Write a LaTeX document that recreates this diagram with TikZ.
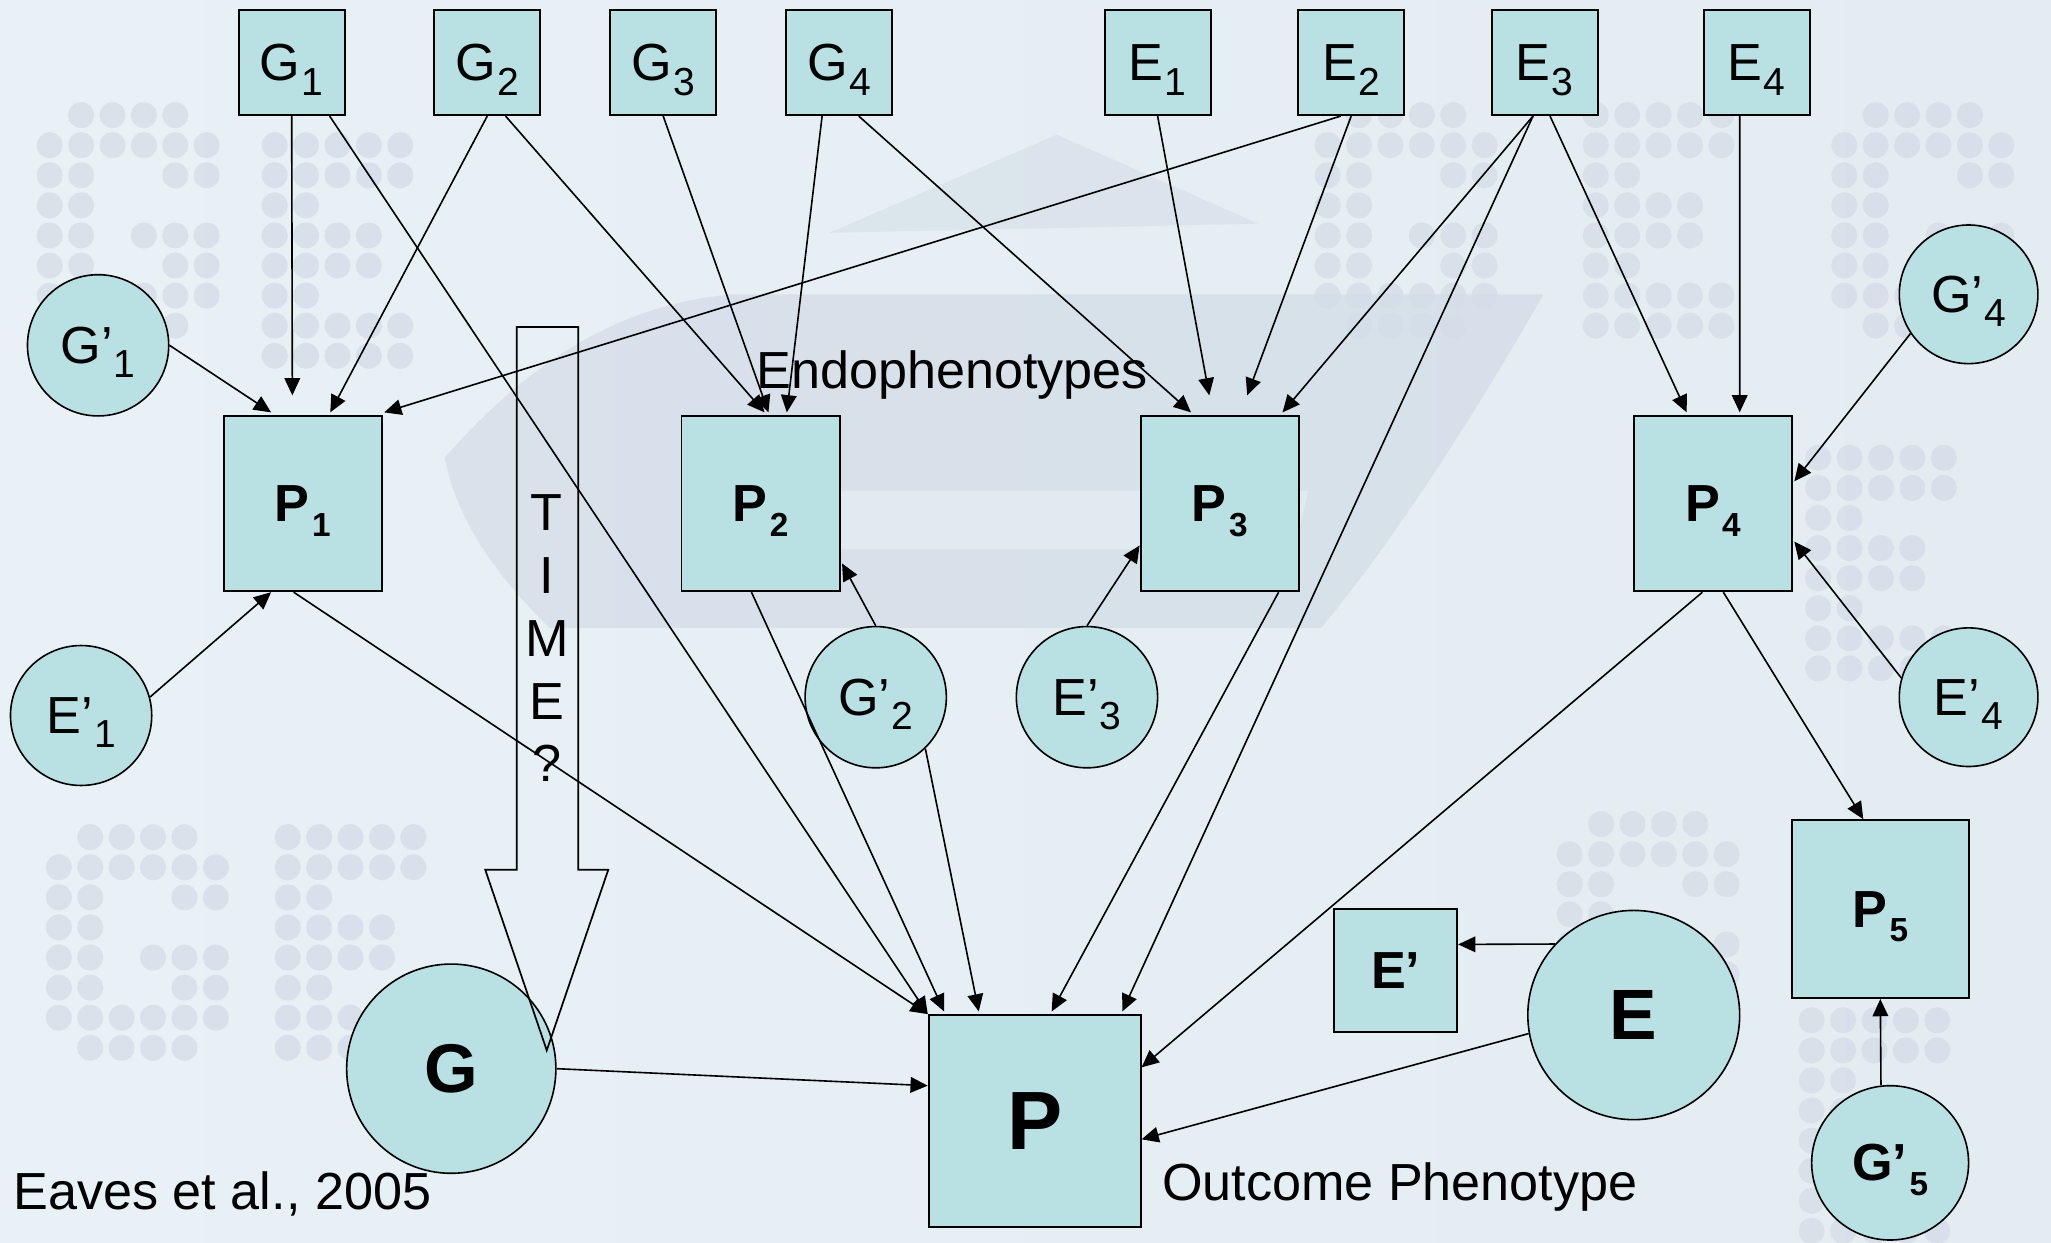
\documentclass[tikz,border=0pt]{standalone}
\usepackage{fontspec}
\setmainfont{Liberation Sans}
\usetikzlibrary{arrows.meta,calc,shapes.geometric}
\definecolor{nodefill}{RGB}{185,224,226}
\definecolor{bgleft}{RGB}{232,241,245}
\definecolor{bgmid}{RGB}{219,229,236}
\definecolor{bgright}{RGB}{227,236,241}
\definecolor{swoosh}{RGB}{196,206,222}
\definecolor{dotc}{RGB}{212,221,232}
\newcommand\nsz{\fontsize{22.7}{27.3}\selectfont}
\newcommand\ssz{\fontsize{17}{17}\selectfont}
\newcommand\bsz{\fontsize{14.5}{14.5}\selectfont}
\newcommand\lab[2]{#1\kern0.5pt\smash{\raisebox{-6.3pt}{\ssz #2}}}
\newcommand\plab[2]{\textbf{#1\kern1pt\smash{\raisebox{-6.3pt}{\bsz #2}}}}
\newcommand\dotG[2]{\foreach \c/\r in {1/0,2/0,3/0,4/0,0/1,1/1,2/1,3/1,4/1,5/1,0/2,1/2,4/2,5/2,0/3,1/3,0/4,1/4,3/4,4/4,5/4,0/5,1/5,4/5,5/5,0/6,1/6,2/6,3/6,4/6,5/6,1/7,2/7,3/7,4/7}{\fill[dotc, opacity=0.75] (#1+\c*24,#2+\r*23) circle (10);}}
\newcommand\dotE[2]{\foreach \c/\r in {0/0,1/0,2/0,3/0,4/0,0/1,1/1,2/1,3/1,4/1,0/2,1/2,0/3,1/3,2/3,3/3,0/4,1/4,2/4,3/4,0/5,1/5,0/6,1/6,2/6,3/6,4/6,0/7,1/7,2/7,3/7,4/7}{\fill[dotc, opacity=0.75] (#1+\c*24,#2+\r*23) circle (10);}}
\begin{document}
\begin{tikzpicture}[x=0.02cm,y=-0.02cm,
  box/.style={draw=black, line width=0.85pt, fill=nodefill, rectangle, inner sep=0pt, font=\nsz},
  circ/.style={draw=black, line width=0.7pt, fill=nodefill, ellipse, inner sep=0pt, font=\nsz},
  arr/.style={-{Triangle[length=7.5pt,width=6.8pt]}, line width=0.7pt},
  txt/.style={inner sep=0pt, font=\nsz}]
% background
\useasboundingbox (0,0) rectangle (1568,950);
\shade[left color=bgleft, middle color=bgmid, right color=bgright] (0,0) rectangle (1568,950);
\fill[swoosh, opacity=0.4] (340,350) .. controls (410,270) and (480,232) .. (560,225) -- (1180,225)
   .. controls (1120,330) and (1060,420) .. (1010,480) -- (420,480) .. controls (380,440) and (350,400) .. cycle;
\fill[bgleft, opacity=0.6] (560,375) -- (1000,375) -- (990,420) -- (570,420) -- cycle;
\fill[swoosh, opacity=0.3] (634,178) -- (808,103) -- (962,171) -- cycle;
\dotG{38}{88}
\dotE{210}{111}
\dotG{45}{640}
\dotE{220}{640}
\dotG{1015}{88}
\dotE{1220}{88}
\dotG{1410}{88}
\dotE{1390}{350}
\dotG{1200}{630}
\dotE{1385}{780}
% nodes
\node[box, minimum width=1.62cm, minimum height=1.6cm] (G1) at (223,48) {\lab{G}{1}};
\node[box, minimum width=1.62cm, minimum height=1.6cm] (G2) at (372.5,48) {\lab{G}{2}};
\node[box, minimum width=1.62cm, minimum height=1.6cm] (G3) at (507,48) {\lab{G}{3}};
\node[box, minimum width=1.62cm, minimum height=1.6cm] (G4) at (641.5,48) {\lab{G}{4}};
\node[box, minimum width=1.62cm, minimum height=1.6cm] (E1) at (885,48) {\lab{E}{1}};
\node[box, minimum width=1.62cm, minimum height=1.6cm] (E2) at (1033,48) {\lab{E}{2}};
\node[box, minimum width=1.62cm, minimum height=1.6cm] (E3) at (1181,48) {\lab{E}{3}};
\node[box, minimum width=1.62cm, minimum height=1.6cm] (E4) at (1343,48) {\lab{E}{4}};
\node[box, minimum width=2.42cm, minimum height=2.68cm] (P1) at (231.5,385) {\plab{P}{1}};
\node[box, minimum width=2.42cm, minimum height=2.68cm] (P2) at (581.5,385) {\plab{P}{2}};
\node[box, minimum width=2.42cm, minimum height=2.68cm] (P3) at (932.5,385) {\plab{P}{3}};
\node[box, minimum width=2.42cm, minimum height=2.68cm] (P4) at (1309.5,385) {\plab{P}{4}};
\node[box, minimum width=2.71cm, minimum height=2.72cm] (P5) at (1437.5,695) {\plab{P}{5}};
\node[box, minimum width=3.24cm, minimum height=3.24cm, font=\fontsize{36}{40}\selectfont\bfseries] (P) at (791,857) {P};
\node[box, minimum width=1.88cm, minimum height=1.88cm, font=\nsz\bfseries] (Ep) at (1067,742) {E’};
\node[circ, minimum width=2.16cm, minimum height=2.16cm] (Gp1) at (75,264) {\lab{G’}{1}};
\node[circ, minimum width=2.16cm, minimum height=2.14cm] (Ep1) at (62,547) {\lab{E’}{1}};
\node[circ, minimum width=2.16cm, minimum height=2.16cm] (Gp2) at (669.5,533) {\lab{G’}{2}};
\node[circ, minimum width=2.16cm, minimum height=2.16cm] (Ep3) at (831,533) {\lab{E’}{3}};
\node[circ, minimum width=2.12cm, minimum height=2.12cm] (Gp4) at (1505,225) {\lab{G’}{4}};
\node[circ, minimum width=2.12cm, minimum height=2.12cm] (Ep4) at (1505,533) {\lab{E’}{4}};
\node[circ, minimum width=3.2cm, minimum height=3.2cm, font=\fontsize{30}{34}\selectfont\bfseries] (G) at (345,817) {G};
\node[circ, minimum width=3.24cm, minimum height=3.2cm, font=\fontsize{31}{34}\selectfont\bfseries] (E) at (1249,776) {E};
\node[circ, minimum width=2.4cm, minimum height=2.36cm] (Gp5) at (1445,889) {\plab{G’}{5}};
% time arrow
\draw[line width=0.75pt] (395,250) -- (442,250) -- (442,665) -- (465,665) -- (418,803) -- (371,665) -- (395,665) -- cycle;
\node[txt, anchor=north, align=center] (time) at (418,378) {T\\I\\M\\E\\?};
% texts
\node[txt, anchor=base west] (endo) at (578,297) {Endophenotypes};
\node[txt, anchor=base west] (outc) at (888,918) {Outcome Phenotype};
\node[txt, anchor=base west] (eaves) at (10,925) {Eaves et al., 2005};
% connectors
\draw[arr] (G1.south) -- ($(P1.north)+(-8,-15)$);
\draw[arr] ($(G1.south)+(29,0)$) -- (P.north west);
\draw[arr] (G2.south) -- ($(P1.north)+(21,-2)$);
\draw[arr] ($(G2.south)+(14,0)$) -- ($(P2.north)+(3,-2)$);
\draw[arr] (G3.south) -- ($(P2.north)+(6,-2)$);
\draw[arr] ($(G4.south)+(-13,0)$) -- ($(P2.north)+(20,-2)$);
\draw[arr] ($(G4.south)+(15,0)$) -- ($(P3.north)+(-22,-2)$);
\draw[arr] (E1.south) -- ($(P3.north)+(-8,-15)$);
\draw[arr] ($(E2.south)+(-8,0)$) -- ($(P1.north east)+(1,-2)$);
\draw[arr] (E2.south) -- ($(P3.north)+(21,-15)$);
\draw[arr] ($(E3.south)+(-9,0)$) -- ($(P3.north)+(48,-2)$);
\draw[arr] ($(E3.south)+(-9,0)$) -- ($(P.north)+(67,-2)$);
\draw[arr] ($(E3.south)+(4,0)$) -- ($(P4.north)+(-20,-2)$);
\draw[arr] ($(E4.south)+(-13,0)$) -- ($(P4.north)+(20.5,-2)$);
\draw[arr] (Gp1.east) -- ($(P1.north west)+(37,-2)$);
\draw[arr] (Ep1.15) -- ($(P1.south west)+(37,0)$);
\draw[arr] (Gp4.214) -- ($(P4.east)+(1,-17)$);
\draw[arr] (Ep4.164) -- ($(P4.east)+(1,29)$);
\draw[arr] (Gp2.north) -- ($(P2.south east)+(1,-22)$);
\draw[arr] (Ep3.north) -- ($(P3.west)+(0,32)$);
\draw[arr] ($(P1.south)+(-7,0)$) -- (P.north west);
\draw[arr] ($(P2.south)+(-7,0)$) -- ($(P.north west)+(12.5,-2)$);
\draw[arr] (Gp2.-46) -- ($(P.north west)+(39,-2)$);
\draw[arr] ($(P3.south)+(45,0)$) -- ($(P.north)+(13,-2)$);
\draw[arr] ($(P4.south)+(-8,0)$) -- ($(P.east)+(0,-41)$);
\draw[arr] ($(P4.south)+(8,0)$) -- ($(P5.north)+(-13,0)$);
\draw[arr] ($(Gp5.north)+(-7,0)$) -- (P5.south);
\draw[arr] (E.138) -- ($(Ep.east)+(0,-20)$);
\draw[arr] (E.190) -- ($(P.east)+(0,14)$);
\draw[arr] (G.east) -- ($(P.west)+(0,-27)$);
\end{tikzpicture}
\end{document}
